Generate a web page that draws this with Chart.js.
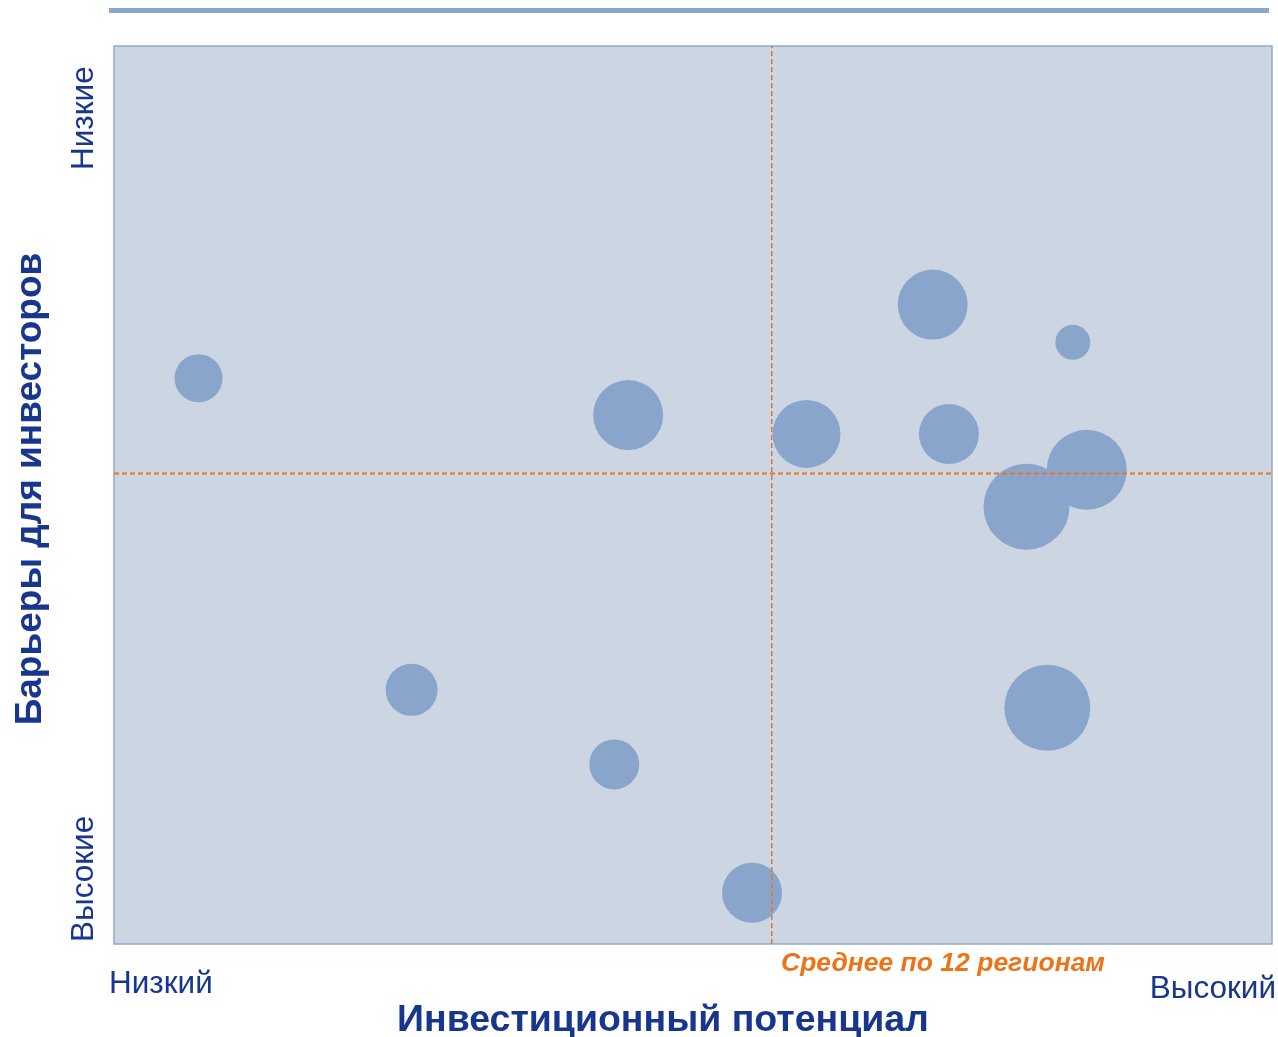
<!DOCTYPE html>
<html>
<head>
<meta charset="utf-8">
<script src="https://cdn.jsdelivr.net/npm/chart.js@4.4.1/dist/chart.umd.min.js"></script>
<style>
html,body{margin:0;padding:0;background:#fff;}
#wrap{width:1278px;height:1037px;position:relative;}
</style>
</head>
<body>
<div id="wrap"><canvas id="c" width="1278" height="1037"></canvas></div>
<script>
// Data (x: investment potential, y: barriers — higher y = lower barriers)
const regionX = [7.3, 44.4, 59.8, 70.7, 82.8, 72.1, 84.0, 78.8, 80.6, 25.7, 43.2, 55.1];
const regionY = [63.0, 58.9, 56.8, 71.2, 67.0, 56.8, 52.8, 48.7, 26.3, 28.3, 20.0, 5.7];
const regionSize = [24, 35, 34, 35, 17.5, 30, 40, 43, 43, 26, 25, 30];
const meanX = [56.8];
const meanY = [52.4];
const axisMin = [0];
const axisMax = [100];
const xEndLabels = ['Низкий', 'Высокий'];
const yEndLabels = ['Высокие', 'Низкие'];
const xTitle = 'Инвестиционный потенциал';
const yTitle = 'Барьеры для инвесторов';
const meanLabel = 'Среднее по 12 регионам';

const TEXT = '#18368e';
const BUBBLE = '#8aa5cc';
const ORANGE = '#ec7318';

const bubbles = regionX.map((x, i) => ({x: x, y: regionY[i], r: regionSize[i]}));

const decor = {
  id: 'decor',
  beforeDraw(chart) {
    const {ctx, chartArea: a} = chart;
    ctx.save();
    ctx.fillStyle = '#ccd6e3';
    ctx.fillRect(a.left, a.top, a.right - a.left, a.bottom - a.top);
    ctx.strokeStyle = '#8faad4';
    ctx.lineWidth = 1.5;
    ctx.strokeRect(a.left, a.top, a.right - a.left, a.bottom - a.top);
    // top rule
    ctx.fillStyle = '#8ba6cc';
    ctx.fillRect(109, 8, 1160, 5);
    ctx.restore();
  },
  afterDraw(chart) {
    const {ctx} = chart;
    ctx.save();
    ctx.fillStyle = TEXT;
    ctx.textBaseline = 'alphabetic';
    ctx.font = '31.5px "Liberation Sans", Arial, sans-serif';
    ctx.textAlign = 'left';
    ctx.fillText(xEndLabels[0], 109, 993);
    ctx.textAlign = 'right';
    ctx.fillText(xEndLabels[1], 1276, 998);
    // rotated y end labels
    ctx.save();
    ctx.translate(93, 942);
    ctx.rotate(-Math.PI / 2);
    ctx.textAlign = 'left';
    ctx.fillText(yEndLabels[0], 0, 0);
    ctx.restore();
    ctx.save();
    ctx.translate(93, 170);
    ctx.rotate(-Math.PI / 2);
    ctx.textAlign = 'left';
    ctx.fillText(yEndLabels[1], 0, 0);
    ctx.restore();
    // titles
    ctx.font = 'bold 37.5px "Liberation Sans", Arial, sans-serif';
    ctx.textAlign = 'center';
    ctx.fillText(xTitle, 663, 1031);
    ctx.font = 'bold 37px "Liberation Sans", Arial, sans-serif';
    ctx.save();
    ctx.translate(41, 489);
    ctx.rotate(-Math.PI / 2);
    ctx.fillText(yTitle, 0, 0);
    ctx.restore();
    // mean label
    ctx.fillStyle = ORANGE;
    ctx.font = 'italic bold 26.5px "Liberation Sans", Arial, sans-serif';
    ctx.textAlign = 'left';
    ctx.fillText(meanLabel, 781, 971);
    ctx.restore();
  }
};

new Chart(document.getElementById('c'), {
  type: 'bubble',
  data: {
    datasets: [
      {
        type: 'line',
        label: 'meanY',
        data: [{x: axisMin[0], y: meanY[0]}, {x: axisMax[0], y: meanY[0]}],
        borderColor: ORANGE,
        borderWidth: 2,
        borderDash: [5, 3],
        pointRadius: 0,
        fill: false
      },
      {
        type: 'line',
        label: 'meanX',
        data: [{x: meanX[0], y: axisMin[0]}, {x: meanX[0], y: axisMax[0]}],
        borderColor: '#e0772a',
        borderWidth: 1.5,
        borderDash: [5, 3],
        pointRadius: 0,
        fill: false
      },
      {
        label: 'Регионы',
        data: bubbles,
        backgroundColor: BUBBLE,
        borderColor: BUBBLE,
        borderWidth: 0,
        hoverBackgroundColor: BUBBLE,
        clip: false
      }
    ]
  },
  options: {
    responsive: false,
    animation: false,
    devicePixelRatio: 1,
    layout: {autoPadding: false, padding: {left: 114, top: 46, right: 6, bottom: 93}},
    plugins: {legend: {display: false}, tooltip: {enabled: false}},
    scales: {
      x: {type: 'linear', min: axisMin[0], max: axisMax[0], display: false},
      y: {type: 'linear', min: axisMin[0], max: axisMax[0], display: false}
    }
  },
  plugins: [decor]
});
</script>
</body>
</html>
